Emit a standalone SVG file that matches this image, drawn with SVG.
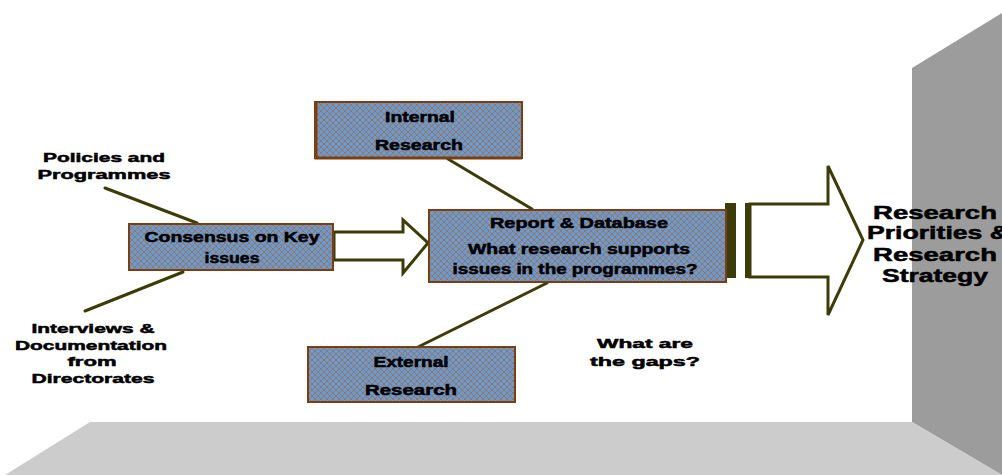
<svg xmlns="http://www.w3.org/2000/svg" width="1002" height="475" viewBox="0 0 1002 475">
  <style>
    .lbl { font-family: "Liberation Sans", Arial, sans-serif; font-weight: bold; fill: #000; stroke: #000; stroke-width: 0.5; text-anchor: middle; }
    .box { fill: url(#hatch); stroke: #7a3f10; stroke-width: 2; }
    .link { stroke: #3c3c08; stroke-width: 3; fill: none; stroke-linecap: round; }
    .arrow { fill: #fff; stroke: #3c3c08; stroke-width: 3; stroke-linejoin: miter; }
  </style>
  <defs>
    <pattern id="hatch" width="6" height="6" patternUnits="userSpaceOnUse">
      <rect width="6" height="6" fill="#6a9ad6"/>
      <path d="M0,0 L6,6 M6,0 L0,6" stroke="#a0703f" stroke-width="0.8"/>
    </pattern>
  </defs>

  <!-- room: back wall and floor -->
  <rect width="1002" height="475" fill="#fff"/>
  <polygon id="wall" points="912,68 1002,13 1002,475 912,422" fill="#9c9c9c"/>
  <polygon id="floor" points="90,422 912,422 1002,475 5,475" fill="#cccccc"/>

  <!-- connectors -->
  <g id="connectors">
    <line class="link" x1="105" y1="188" x2="197" y2="223"/>
    <line class="link" x1="183" y1="272" x2="85" y2="311" stroke="#1f4a18"/>
    <line class="link" x1="448" y1="159" x2="532" y2="209"/>
    <line class="link" x1="547" y1="283" x2="418" y2="347"/>
    <polygon class="arrow" points="334,232 403,232 403,220 428,243 403,273 403,260 334,260"/>
    <!-- output arrow -->
    <rect x="725" y="203" width="11" height="75" fill="#3c3c08"/>
    <rect x="745" y="203" width="5" height="75" fill="#3c3c08"/>
    <polygon class="arrow" points="750,204 828,204 828,166 863,240 828,315 828,277 750,277"/>
  </g>

  <g id="consensus">
    <rect class="box" x="129" y="224" width="204" height="46"/>
    <text class="lbl" x="232" y="242" font-size="14" textLength="175" lengthAdjust="spacingAndGlyphs">Consensus on Key</text>
    <text class="lbl" x="232" y="263" font-size="14" textLength="55" lengthAdjust="spacingAndGlyphs">issues</text>
  </g>

  <g id="internal">
    <rect class="box" x="315" y="102" width="207" height="56"/>
    <path d="M316,102 L316,158 L522,158" stroke="#7a3f10" stroke-width="3" fill="none"/>
    <text class="lbl" x="420" y="122" font-size="14" textLength="70" lengthAdjust="spacingAndGlyphs">Internal</text>
    <text class="lbl" x="419" y="150" font-size="14" textLength="88" lengthAdjust="spacingAndGlyphs">Research</text>
  </g>

  <g id="report">
    <rect class="box" x="429" y="210" width="297" height="72"/>
    <text class="lbl" x="579" y="228" font-size="14" textLength="178" lengthAdjust="spacingAndGlyphs">Report &amp; Database</text>
    <text class="lbl" x="579" y="254" font-size="14" textLength="222" lengthAdjust="spacingAndGlyphs">What research supports</text>
    <text class="lbl" x="575" y="274" font-size="14" textLength="245" lengthAdjust="spacingAndGlyphs">issues in the programmes?</text>
  </g>

  <g id="external">
    <rect class="box" x="308" y="347" width="207" height="55"/>
    <text class="lbl" x="411" y="367" font-size="14" textLength="75" lengthAdjust="spacingAndGlyphs">External</text>
    <text class="lbl" x="411" y="395" font-size="14" textLength="92" lengthAdjust="spacingAndGlyphs">Research</text>
  </g>

  <g id="policies">
    <text class="lbl" x="104" y="162" font-size="13" textLength="122" lengthAdjust="spacingAndGlyphs">Policies and</text>
    <text class="lbl" x="104" y="179" font-size="13" textLength="133" lengthAdjust="spacingAndGlyphs">Programmes</text>
  </g>

  <g id="interviews">
    <text class="lbl" x="93" y="333" font-size="13" textLength="123" lengthAdjust="spacingAndGlyphs">Interviews &amp;</text>
    <text class="lbl" x="91" y="350" font-size="13" textLength="152" lengthAdjust="spacingAndGlyphs">Documentation</text>
    <text class="lbl" x="92" y="366" font-size="13" textLength="49" lengthAdjust="spacingAndGlyphs">from</text>
    <text class="lbl" x="93" y="383" font-size="13" textLength="123" lengthAdjust="spacingAndGlyphs">Directorates</text>
  </g>

  <g id="gaps">
    <text class="lbl" x="645" y="348" font-size="13" textLength="96" lengthAdjust="spacingAndGlyphs">What are</text>
    <text class="lbl" x="645" y="366" font-size="13" textLength="110" lengthAdjust="spacingAndGlyphs">the gaps?</text>
  </g>

  <g id="outcome">
    <text class="lbl" x="935" y="219" font-size="18" textLength="124" lengthAdjust="spacingAndGlyphs">Research</text>
    <text class="lbl" x="938" y="239" font-size="18" textLength="142" lengthAdjust="spacingAndGlyphs">Priorities &amp;</text>
    <text class="lbl" x="935" y="261" font-size="18" textLength="124" lengthAdjust="spacingAndGlyphs">Research</text>
    <text class="lbl" x="935" y="282" font-size="18" textLength="106" lengthAdjust="spacingAndGlyphs">Strategy</text>
  </g>
</svg>
